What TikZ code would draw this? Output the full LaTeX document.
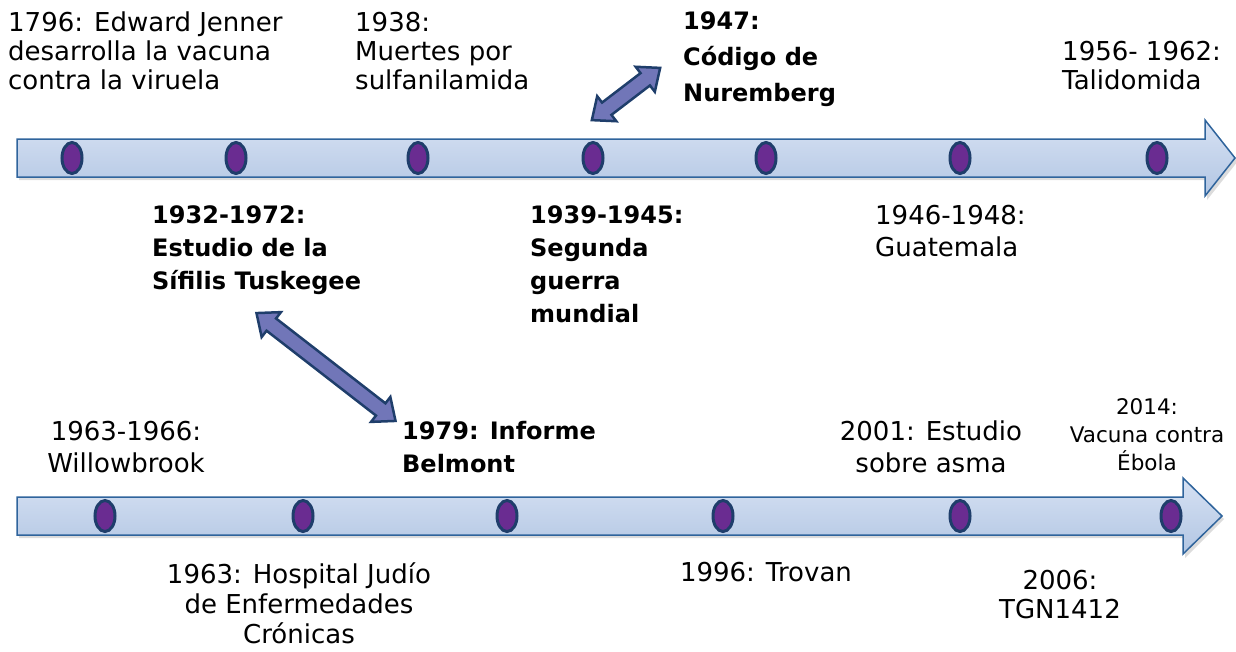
\documentclass[tikz,border=0pt]{standalone}
\usepackage{fontspec}
\setmainfont{DejaVu Sans}
\usetikzlibrary{shapes.arrows,shapes.geometric}
\definecolor{barTop}{HTML}{D6E1F3}
\definecolor{barBot}{HTML}{B2C6E3}
\definecolor{barLine}{HTML}{2F649C}
\definecolor{dotFill}{HTML}{6A2C91}
\definecolor{dotLine}{HTML}{1F3E6B}
\definecolor{dblFill}{HTML}{7176B8}
\begin{document}
\begin{tikzpicture}[x=1pt,y=-1pt,
  bar/.style={top color=barTop, bottom color=barBot, draw=barLine, line width=1.5pt, line join=miter},
  barshadow/.style={fill=black!30, opacity=0.45, draw=none},
  dot/.style={ellipse, minimum width=20pt, minimum height=31pt, inner sep=0pt, fill=dotFill, draw=dotLine, line width=3pt},
  dblarrow/.style={double arrow, inner xsep=0pt, inner ysep=6.5pt, minimum width=29pt, double arrow head extend=8pt, double arrow tip angle=80, fill=dblFill, draw=dotLine, line width=2.5pt},
  reg/.style={inner sep=0pt, font=\fontsize{26}{29}\selectfont},
  regw/.style={inner sep=0pt, font=\fontsize{26}{32}\selectfont},
  regh/.style={inner sep=0pt, font=\fontsize{26}{30}\selectfont},
  bld/.style={inner sep=0pt, font=\fontsize{24}{33}\selectfont\bfseries},
  bldw/.style={inner sep=0pt, font=\fontsize{24}{36}\selectfont\bfseries},
  sml/.style={inner sep=0pt, font=\fontsize{21.5}{28}\selectfont}
]
\useasboundingbox (0,0) rectangle (1236,651);
% top bar
\fill[barshadow] (19,142) -- (1207,142) -- (1207,122) -- (1238,161) -- (1207,200) -- (1207,180) -- (19,180) -- cycle;
\draw[bar] (17,139) -- (1205,139) -- (1205,120) -- (1235,158) -- (1205,196) -- (1205,177) -- (17,177) -- cycle;
% bottom bar
\fill[barshadow] (19,500) -- (1185,500) -- (1185,481) -- (1224,519) -- (1185,558) -- (1185,538) -- (19,538) -- cycle;
\draw[bar] (17,497) -- (1183,497) -- (1183,478) -- (1222,516) -- (1183,554) -- (1183,535) -- (17,535) -- cycle;
% dots top
\foreach \x [count=\i] in {72,236,418,593,766,960,1157}
  \node[dot] (t\i) at (\x,158) {};
% dots bottom
\foreach \x [count=\i] in {105,303,507,723,960,1171}
  \node[dot] (b\i) at (\x,516) {};
% double arrows
\node[dblarrow, minimum height=86pt, rotate=37.4] (da1) at (626,94) {};
\node[dblarrow, minimum height=176pt, rotate=-37.8] (da2) at (326,367) {};
% top labels
\node[reg, anchor=north west, align=left] (l1796) at (8,12) {1796: Edward Jenner\\desarrolla la vacuna\\contra la viruela};
\node[reg, anchor=north west, align=left] (l1938) at (355,12) {1938:\\Muertes por\\sulfanilamida};
\node[bldw, anchor=north west, align=left] (l1947) at (683,12) {1947:\\Código de\\Nuremberg};
\node[reg, anchor=north west, align=left] (l1956) at (1062,41) {1956- 1962:\\Talidomida};
\node[bld, anchor=north west, align=left] (l1932) at (152,205) {1932-1972:\\Estudio de la\\Sífilis Tuskegee};
\node[bld, anchor=north west, align=left] (l1939) at (530,205) {1939-1945:\\Segunda\\guerra\\mundial};
\node[regw, anchor=north west, align=left] (l1946) at (875,205) {1946-1948:\\Guatemala};
% bottom labels
\node[regw, anchor=north, align=center] (l1963w) at (126,421) {1963-1966:\\Willowbrook};
\node[bld, anchor=north west, align=left] (l1979) at (402,421) {1979: Informe\\Belmont};
\node[regw, anchor=north, align=center] (l2001) at (931,421) {2001: Estudio\\sobre asma};
\node[sml, anchor=north, align=center] (l2014) at (1147,398) {2014:\\Vacuna contra\\Ébola};
\node[regh, anchor=north, align=center] (l1963h) at (299,562) {1963: Hospital Judío\\de Enfermedades\\Crónicas};
\node[regh, anchor=north, align=center] (l1996) at (766,562) {1996: Trovan};
\node[reg, anchor=north, align=center] (l2006) at (1060,570) {2006:\\TGN1412};
\end{tikzpicture}
\end{document}
